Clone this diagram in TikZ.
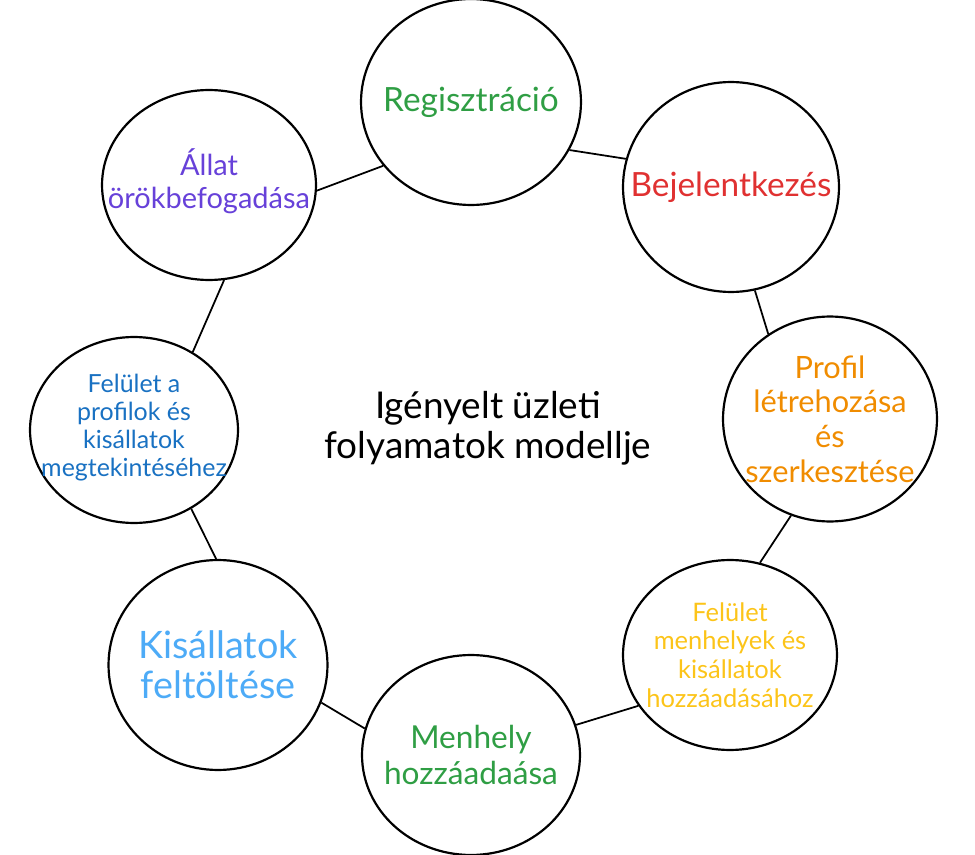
\documentclass[tikz,border=0pt]{standalone}
\usepackage{fontspec}
\setmainfont{Lato}
\usepackage{tikz}
\usetikzlibrary{shapes.geometric, positioning, calc}
\definecolor{StepGreen}{HTML}{2F9E44}
\definecolor{StepRed}{HTML}{E03131}
\definecolor{StepOrange}{HTML}{F08C00}
\definecolor{StepYellow}{HTML}{FCC419}
\definecolor{StepLightBlue}{HTML}{4DABF7}
\definecolor{StepBlue}{HTML}{1971C2}
\definecolor{StepViolet}{HTML}{6741D9}

\begin{document}
\begin{tikzpicture}[x=0.02cm, y=-0.02cm]
    \tikzset{proc/.style={draw, ellipse, line width=1.25pt, inner sep=0pt, minimum width=4.28cm, minimum height=4.05cm},
        caption/.style={align=center, inner sep=0pt},
        link/.style={line width=1pt}
    }
    \useasboundingbox (0,0) rectangle (975,855);

    % the process bubbles
    \node (Reg) [proc, minimum width=4.4cm, minimum height=4.12cm] at (471,102) {};
    \node (Login) [proc, minimum width=4.32cm, minimum height=4.2cm] at (731,187) {};
    \node (Profile) [proc, minimum height=4.1cm] at (830,419) {};
    \node (ShelterUI) [proc, minimum height=3.8cm] at (730,655) {};
    \node (Shelter) [proc, minimum width=4.36cm, minimum height=4cm] at (471,755) {};
    \node (Upload) [proc, minimum width=4.38cm, minimum height=4.2cm] at (218,665) {};
    \node (Browse) [proc, minimum width=4.16cm, minimum height=3.72cm] at (134,430) {};
    \node (Adopt) [proc, minimum width=4.28cm, minimum height=3.8cm] at (209,185) {};

    % their texts
    \node (Reg-Text) [caption, text=StepGreen, font=\fontsize{19}{22}\selectfont] at (Reg) {Regisztráció};
    \node (Login-Text) [caption, text=StepRed, font=\fontsize{19}{22}\selectfont] at (Login) {Bejelentkezés};
    \node (Profile-Text) [caption, text=StepOrange, font=\fontsize{17.5}{19.8}\selectfont] at (Profile) {Profil\\létrehozása\\és\\szerkesztése};
    \node (ShelterUI-Text) [caption, text=StepYellow, font=\fontsize{14.5}{16.4}\selectfont] at (ShelterUI) {Felület\\menhelyek és\\kisállatok\\hozzáadásához};
    \node (Shelter-Text) [caption, text=StepGreen, font=\fontsize{18}{20}\selectfont] at (Shelter) {Menhely\\hozzáadaása};
    \node (Upload-Text) [caption, text=StepLightBlue, font=\fontsize{21.5}{23}\selectfont] at (Upload) {Kisállatok\\feltöltése};
    \node (Browse-Text) [caption, text=StepBlue, font=\fontsize{14.2}{15.9}\selectfont] at ([yshift=0.05cm]Browse) {Felület a\\profilok és\\kisállatok\\megtekintéséhez};
    \node (Adopt-Text) [caption, text=StepViolet, font=\fontsize{16.5}{19}\selectfont] at ([yshift=0.08cm]Adopt) {Állat\\örökbefogadása};

    \node (Title) [caption, font=\fontsize{21}{22.7}\selectfont] at (488,428) {Igényelt üzleti\\folyamatok modellje};

    % ring of connections (border angles)
    \foreach \a / \p / \b / \q in {Adopt/-3/Reg/216, Reg/-26/Login/165, Login/-77/Profile/126, Profile/-112/ShelterUI/72,
        ShelterUI/209/Shelter/16, Shelter/166/Upload/-20, Upload/91/Browse/-54, Browse/53/Adopt/-81} {
        \draw [link] (\a.\p) -- (\b.\q);
    }
\end{tikzpicture}
\end{document}
